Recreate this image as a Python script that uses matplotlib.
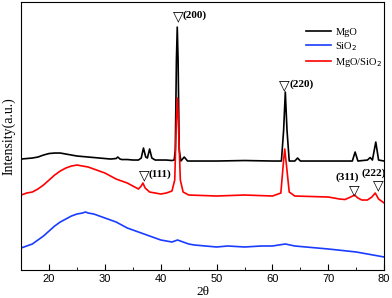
import numpy as np
import matplotlib.pyplot as plt
from matplotlib.ticker import MultipleLocator

# XRD patterns (intensity in arbitrary units)
x_mgo = [15, 16, 17, 18, 19, 20, 21, 22, 23, 24, 25, 26, 27, 28, 29, 30, 31, 32, 32.3, 32.7,
         33, 34, 35, 36, 36.5, 36.9, 37.3, 37.6, 38.0, 38.4, 39, 40, 41, 42, 42.4, 42.6, 42.8,
         42.95, 43.1, 43.3, 43.6, 44.2, 44.8, 46, 50, 55, 60, 61.6, 62.0, 62.3, 62.6, 63.0,
         64.0, 64.5, 65, 68, 72, 74.3, 74.8, 75.3, 77, 77.5, 77.9, 78.5, 79.0, 80]
y_mgo = [111, 111.5, 112, 113, 115, 116.5, 117, 117, 116, 115, 114, 113.5, 113, 112.5, 112,
         111.5, 111, 111.5, 113, 111, 110.5, 110.5, 110, 110, 112, 122, 113, 112, 121, 112,
         110, 110, 110, 109.5, 110, 120, 210, 243, 210, 120, 109, 113, 109, 109, 109, 109.5,
         109, 109, 140, 178, 140, 109, 109, 112, 109, 109, 109, 109, 118, 109, 110, 112.5,
         110, 128, 110, 109]

x_sio2 = [15, 16, 17, 18, 19, 20, 21, 22, 23, 24, 25, 26, 26.5, 27, 28, 29, 30, 31, 32, 33,
          34, 35, 36, 37, 38, 39, 40, 41, 42, 43, 44, 45, 46, 48, 50, 52, 55, 58, 60, 62.3,
          64, 66, 70, 75, 80]
y_sio2 = [22, 24, 26, 30, 34, 39, 44, 48, 51, 54, 56, 57, 58, 57, 56, 54, 52, 50, 48, 45,
          42, 40, 38, 36, 34, 32, 30, 29, 28, 30, 28, 26, 25, 24, 23, 24, 23, 24, 24, 26,
          24, 23, 21, 18, 13]

x_mix = [15, 16, 17, 18, 19, 20, 21, 22, 23, 24, 25, 26, 27, 28, 29, 30, 31, 32, 33, 34, 35,
         36, 36.5, 36.8, 37.2, 38, 39, 40, 41, 42, 42.5, 42.8, 43.0, 43.2, 43.5, 44, 45, 50,
         55, 60, 61.5, 62.0, 62.2, 62.5, 63, 64, 70, 72, 73, 74, 74.7, 75.3, 76, 77, 77.8,
         78.4, 79, 80]
y_mix = [75, 77, 78, 81, 85, 90, 95, 99, 102, 104, 105, 104, 103, 101, 99, 97, 94, 91, 89,
         87, 84, 81, 84, 87, 82, 78, 77, 76, 77, 79, 90, 150, 172, 140, 90, 78, 75, 74, 75,
         74, 77, 110, 121, 105, 78, 74, 73, 71, 70.5, 73, 75, 72, 70, 70, 73, 77, 71, 67]

fig = plt.figure(figsize=(3.92, 2.98), dpi=100)
ax = fig.add_axes([0.054, 0.094, 0.926, 0.899])

ax.plot(x_mgo, y_mgo, color='black', lw=1.2, label='MgO')
ax.plot(x_sio2, y_sio2, color='#1a3cff', lw=1.2, label='SiO$_2$')
ax.plot(x_mix, y_mix, color='#ff0000', lw=1.2, label='MgO/SiO$_2$')

ax.set_xlim(15, 80)
ax.set_ylim(0, 268)
ax.xaxis.set_major_locator(MultipleLocator(10))
ax.xaxis.set_minor_locator(MultipleLocator(5))
ax.tick_params(axis='x', which='both', direction='in', labelsize=8, pad=3)
ax.tick_params(axis='x', which='major', length=4)
ax.tick_params(axis='x', which='minor', length=2.5)
ax.set_yticks([])
for lab in ax.get_xticklabels():
    lab.set_family('Liberation Sans')

ax.set_xlabel('2θ', family='Liberation Serif', fontsize=9.5, labelpad=1)
ax.set_ylabel('Intensity(a.u.)', family='Liberation Serif', fontsize=10, labelpad=4)

leg = ax.legend(loc='upper left', bbox_to_anchor=(0.785, 0.905), frameon=False,
                borderpad=0, borderaxespad=0,
                prop={'family': 'Liberation Serif', 'size': 7.5}, handlelength=2.4,
                handletextpad=0.4, labelspacing=0.3)

# peak labels
tri = dict(family='DejaVu Sans', fontsize=10, ha='center', va='center')
hkl = dict(family='Liberation Serif', fontsize=8, fontweight='bold', va='center')
ax.text(43.1, 254, '▽', **tri)
ax.text(43.9, 255, '(200)', ha='left', **hkl)
ax.text(62.2, 185, '▽', **tri)
ax.text(63.0, 186, '(220)', ha='left', **hkl)
ax.text(37.0, 95, '▽', **tri)
ax.text(37.8, 96, '(111)', ha='left', **hkl)
ax.text(73.4, 93, '(311)', ha='center', **hkl)
ax.text(74.6, 80, '▽', **tri)
ax.text(78.2, 97, '(222)', ha='center', **hkl)
ax.text(78.9, 85, '▽', **tri)

fig.savefig('out.png', dpi=100)
